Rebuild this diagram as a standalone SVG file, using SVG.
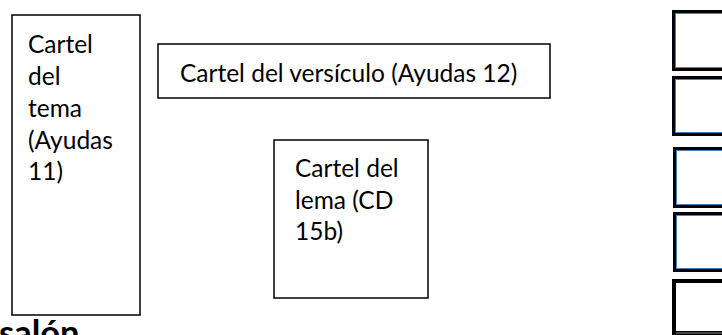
<svg xmlns="http://www.w3.org/2000/svg" width="722" height="335" viewBox="0 0 722 335">
<style>
.box{fill:#fff;stroke:#000;stroke-width:1.5}
.t{font-family:Lato,"Liberation Sans",sans-serif;font-size:24.5px;fill:#000}
.seat{fill:#fff;stroke:#000;stroke-width:3}
.seatin{fill:none;stroke:#4f81bd;stroke-width:1}
.h{font-family:Lato,"Liberation Sans",sans-serif;font-weight:bold;font-size:34.5px;fill:#000}
</style>
<rect width="722" height="335" fill="#fff"/>
<g id="tema">
<rect class="box" x="12" y="15" width="128" height="300"/>
<text class="t"><tspan x="28" y="53">Cartel</tspan><tspan x="28" y="85">del</tspan><tspan x="28" y="117">tema</tspan><tspan x="28" y="148.5">(Ayudas</tspan><tspan x="28" y="180">11)</tspan></text>
</g>
<g id="versiculo">
<rect class="box" x="158" y="44" width="392" height="54"/>
<text class="t" x="180" y="82">Cartel del versículo (Ayudas 12)</text>
</g>
<g id="lema">
<rect class="box" x="274" y="140" width="154" height="158"/>
<text class="t"><tspan x="295" y="177">Cartel del</tspan><tspan x="295" y="208.5">lema (CD</tspan><tspan x="295" y="240">15b)</tspan></text>
</g>
<g id="seats">
<g id="s1"><rect class="seat" x="673.5" y="11.5" width="60" height="58"/><rect class="seatin" x="675.5" y="13.5" width="60" height="54"/></g>
<g id="s2"><rect class="seat" x="673.5" y="77.5" width="60" height="57"/><rect class="seatin" x="675.5" y="79.5" width="60" height="53"/></g>
<g id="s3"><rect class="seat" x="674.5" y="148.5" width="60" height="58"/><rect class="seatin" x="676.5" y="150.5" width="60" height="54"/></g>
<g id="s4"><rect class="seat" x="674.5" y="213.5" width="60" height="57"/><rect class="seatin" x="676.5" y="215.5" width="60" height="53"/></g>
<g id="s5"><rect x="674" y="281" width="60" height="52" fill="#fff" stroke="#000" stroke-width="4"/><line x1="676" y1="333" x2="722" y2="333" stroke="#888" stroke-width="1"/></g>
</g>
<g id="connectors"/>
<text class="h" x="-1" y="344.5">salón</text>
</svg>
